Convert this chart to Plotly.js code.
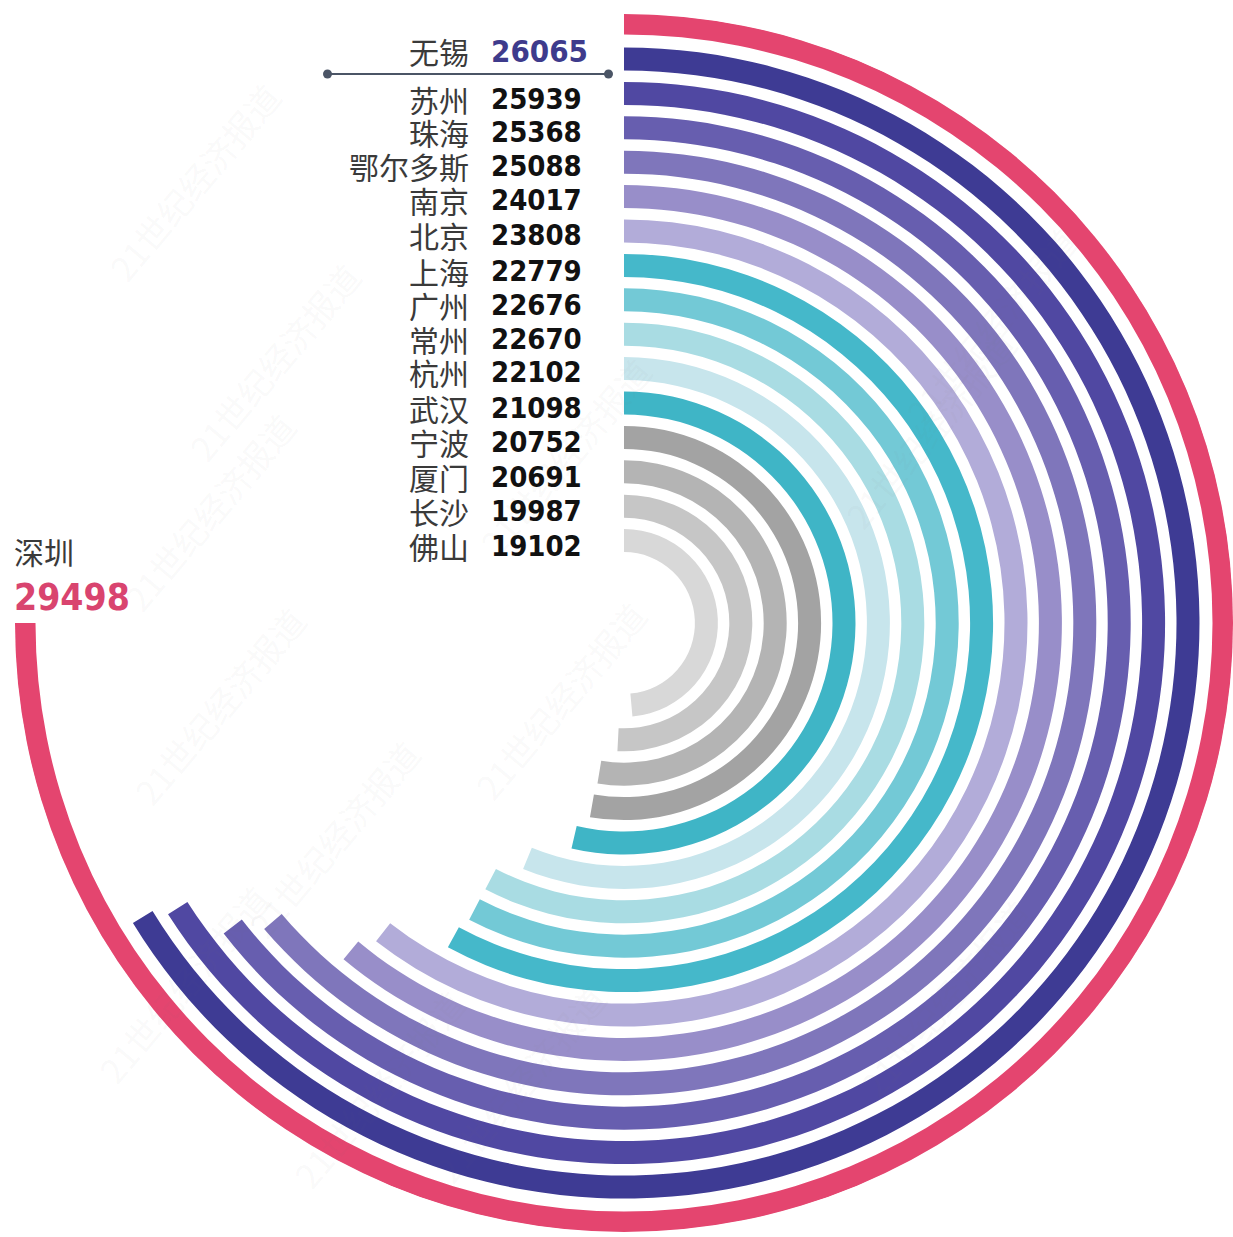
<!DOCTYPE html>
<html>
<head>
<meta charset="utf-8">
<script src="https://cdn.plot.ly/plotly-3.0.1.min.js"></script>
<style>
html,body{margin:0;padding:0;background:#fff;}
#chart{width:1233px;height:1237px;}
</style>
</head>
<body>
<div id="chart"></div>
<script>
// ---- data (outer ring first) ----
const cities = ["深圳","无锡","苏州","珠海","鄂尔多斯","南京","北京","上海","广州","常州","杭州","武汉","宁波","厦门","长沙","佛山"];
const values = [29498,26065,25939,25368,25088,24017,23808,22779,22676,22670,22102,21098,20752,20691,19987,19102];
const ringColors = ["#E4456F","#3E3B94","#5048A2","#675EAF","#7F76BB","#988EC9","#B2ACD9",
                    "#45B8CA","#73C9D6","#A9DCE3","#C7E5EC","#3FB5C6","#A3A3A3","#B4B4B4","#C6C6C6","#D8D8D8"];
const fullCircleValue = 29498 / 0.75;   // Shenzhen spans three quarters of the circle

// ---- geometry (pixels) ----
const W = 1233, H = 1237;
const CX = 624, CY = 623, RMAX = 609;
const OUTER_MID = 599, OUTER_TH = 21;
const FIRST_MID = 564, STEP = 34.4, TH = 23;

const deg = values.map(v => v / fullCircleValue * 360);
const mids = values.map((v, i) => i === 0 ? OUTER_MID : FIRST_MID - (i - 1) * STEP);
const ths = values.map((v, i) => i === 0 ? OUTER_TH : TH);

const trace = {
  type: 'barpolar',
  theta: deg.map(d => d / 2),
  width: deg,
  base: mids.map((m, i) => m - ths[i] / 2),
  r: ths,
  marker: {color: ringColors, line: {width: 0}},
  hoverinfo: 'skip',
  showlegend: false
};

const px = x => x / W;
const py = y => 1 - y / H;

const annotations = [];
const nameFont = {family: "Noto Sans CJK SC, sans-serif", size: 30, color: "#3a3a3a"};
const numFamily = "DejaVu Sans Condensed, Liberation Sans Narrow, sans-serif";
const BOX_H = 33;

// faint watermark layer
const wmPos = [[95,70],[175,250],[110,400],[565,345],[120,705],[560,700],[235,950],[85,1095],[1045,1110],[1090,215],[280,1200],[520,1195],[1030,430]];
wmPos.forEach(p => annotations.push({
  xref:'paper', yref:'paper', x: px(p[0]), y: py(p[1]), text: "21世纪经济报道",
  showarrow:false, textangle:-50, font:{family:"Noto Sans CJK SC, sans-serif", size:34, color:"rgba(120,120,120,0.05)"}
}));

// row labels for cities 1..15
const rowY = [50, 98, 132, 166, 200, 235, 270, 304, 338, 372, 407, 441, 476, 510, 545];
for (let i = 1; i < cities.length; i++) {
  const y = rowY[i - 1];
  annotations.push({xref:'paper', yref:'paper', x: px(471), y: py(y), xanchor:'right', yanchor:'middle',
    height: BOX_H, valign: 'middle',
    text: cities[i], showarrow:false, font: nameFont});
  annotations.push({xref:'paper', yref:'paper', x: px(489), y: py(y), xanchor:'left', yanchor:'middle',
    height: BOX_H, valign: 'middle',
    text: "<b>" + values[i] + "</b>", showarrow:false,
    font: {family: numFamily, size: i === 1 ? 31 : 29, color: i === 1 ? "#3E3B8C" : "#111111"}});
}
// Shenzhen label
annotations.push({xref:'paper', yref:'paper', x: px(12), y: py(551), xanchor:'left', yanchor:'middle',
  text: cities[0], showarrow:false, font: nameFont});
annotations.push({xref:'paper', yref:'paper', x: px(12), y: py(597), xanchor:'left', yanchor:'middle',
  text: "<b>" + values[0] + "</b>", showarrow:false, font: {family: numFamily, size: 37, color: "#D9446F"}});

const shapes = [
  {type:'line', xref:'paper', yref:'paper', x0:px(328), x1:px(609), y0:py(74), y1:py(74), line:{color:'#4B5566', width:2}},
  {type:'circle', xref:'paper', yref:'paper', x0:px(323), x1:px(332), y0:py(69.5), y1:py(78.5), fillcolor:'#4B5566', line:{width:0}},
  {type:'circle', xref:'paper', yref:'paper', x0:px(604), x1:px(613), y0:py(69.5), y1:py(78.5), fillcolor:'#4B5566', line:{width:0}}
];

const layout = {
  width: W, height: H,
  margin: {l:0, r:0, t:0, b:0, pad:0},
  paper_bgcolor: '#ffffff',
  showlegend: false,
  polar: {
    domain: {x: [(CX - RMAX) / W, (CX + RMAX) / W], y: [1 - (CY + RMAX) / H, 1 - (CY - RMAX) / H]},
    bgcolor: 'rgba(0,0,0,0)',
    radialaxis: {range: [0, RMAX], visible: false, showgrid: false},
    angularaxis: {rotation: 90, direction: 'clockwise', visible: false, showgrid: false},
    barmode: 'overlay'
  },
  annotations: annotations,
  shapes: shapes
};

Plotly.newPlot('chart', [trace], layout, {staticPlot: true, displayModeBar: false});
</script>
</body>
</html>
